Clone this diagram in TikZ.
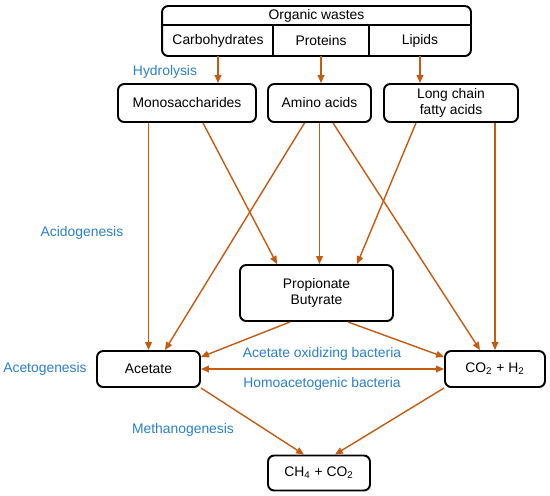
\documentclass[tikz,border=0pt]{standalone}
\usepackage{fontspec}
\setmainfont{Liberation Sans}
\usetikzlibrary{arrows.meta,calc}
\definecolor{arrcol}{HTML}{C55A11}
\definecolor{lblcol}{HTML}{2A80CC}
\begin{document}
\begin{tikzpicture}[x=0.02cm,y=-0.02cm,
  font=\fontsize{7.9}{9.5}\selectfont,
  box/.style={draw=black,line width=1.1pt,rounded corners=3.5pt,inner sep=0pt,align=center},
  cell/.style={inner sep=0pt,align=center},
  arr/.style={draw=arrcol,line width=0.8pt,-{Triangle[length=4.5pt,width=3.8pt]}},
  darr/.style={draw=arrcol,line width=0.8pt,{Triangle[length=4.5pt,width=3.8pt]}-{Triangle[length=4.5pt,width=3.8pt]}},
  lbl/.style={text=lblcol,inner sep=0pt}]
\useasboundingbox (0,0) rectangle (550,495);
% top box
\node[box,minimum width=6.18cm,minimum height=1.0cm] (org) at (316.5,31) {};
\node[cell] (ow) at (316.5,16) {Organic wastes};
\node[cell,minimum width=2.2cm,minimum height=0.62cm] (carb) at (218,40.5) {Carbohydrates};
\node[cell,minimum width=1.92cm,minimum height=0.62cm] (prot) at (321,40.5) {Proteins};
\node[cell,minimum width=2.04cm,minimum height=0.62cm] (lip) at (420,40.5) {Lipids};
\draw[line width=1.1pt] (org.west |- carb.north) -- (org.east |- carb.north);
\draw[line width=1.1pt] (carb.north east) -- (carb.south east);
\draw[line width=1.1pt] (prot.north east) -- (prot.south east);
% second row
\node[box,minimum width=2.76cm,minimum height=0.76cm] (mono) at (187,103) {Monosaccharides};
\node[box,minimum width=2.06cm,minimum height=0.76cm] (amino) at (319.5,103) {Amino acids};
\node[box,minimum width=2.68cm,minimum height=0.76cm] (lcfa) at (451,103) {Long chain\\fatty acids};
% middle
\node[box,minimum width=3.06cm,minimum height=1.12cm] (prop) at (316.5,293) {Propionate\\Butyrate};
\node[box,minimum width=2.06cm,minimum height=0.72cm] (acet) at (148.5,369) {Acetate};
\node[box,minimum width=2.0cm,minimum height=0.72cm] (co2) at (495,369) {CO\textsubscript{2} + H\textsubscript{2}};
\node[box,minimum width=2.04cm,minimum height=0.70cm] (ch4) at (319,473) {CH\textsubscript{4} + CO\textsubscript{2}};
% labels
\node[lbl] (hyd) at (165,72) {Hydrolysis};
\node[lbl] (acid) at (82,233) {Acidogenesis};
\node[lbl] (acet2) at (45,369) {Acetogenesis};
\node[lbl] (meth) at (183,430) {Methanogenesis};
\node[lbl] (aob) at (322,354) {Acetate oxidizing bacteria};
\node[lbl] (hab) at (322,384) {Homoacetogenic bacteria};
% arrows
\draw[arr] (carb.south) -- (carb.south |- mono.north);
\draw[arr] (prot.south) -- (prot.south |- amino.north);
\draw[arr] (lip.south) -- (lip.south |- lcfa.north);
\draw[arr] (acet.north |- mono.south) -- (acet.north);
\draw[arr] ([xshift=0.32cm]mono.south) -- ([xshift=-0.79cm]prop.north);
\draw[arr] ([xshift=-0.3cm]amino.south) -- ([xshift=0.33cm]acet.north);
\draw[arr] (amino.south) -- (amino.south |- prop.north);
\draw[arr] ([xshift=0.27cm]amino.south) -- ([xshift=-0.3cm]co2.north);
\draw[arr] ([xshift=-0.7cm]lcfa.south) -- ([xshift=0.81cm]prop.north);
\draw[arr] (co2.north |- lcfa.south) -- (co2.north);
\draw[arr] ([xshift=-0.53cm]prop.south) -- ([yshift=0.24cm]acet.east);
\draw[arr] ([xshift=0.63cm]prop.south) -- ([yshift=0.24cm]co2.west);
\draw[darr] (acet.east) -- (co2.west);
\draw[arr] (acet.south east) -- ([xshift=-0.3cm]ch4.north);
\draw[arr] (co2.south west) -- ([xshift=0.32cm]ch4.north);
\end{tikzpicture}
\end{document}
